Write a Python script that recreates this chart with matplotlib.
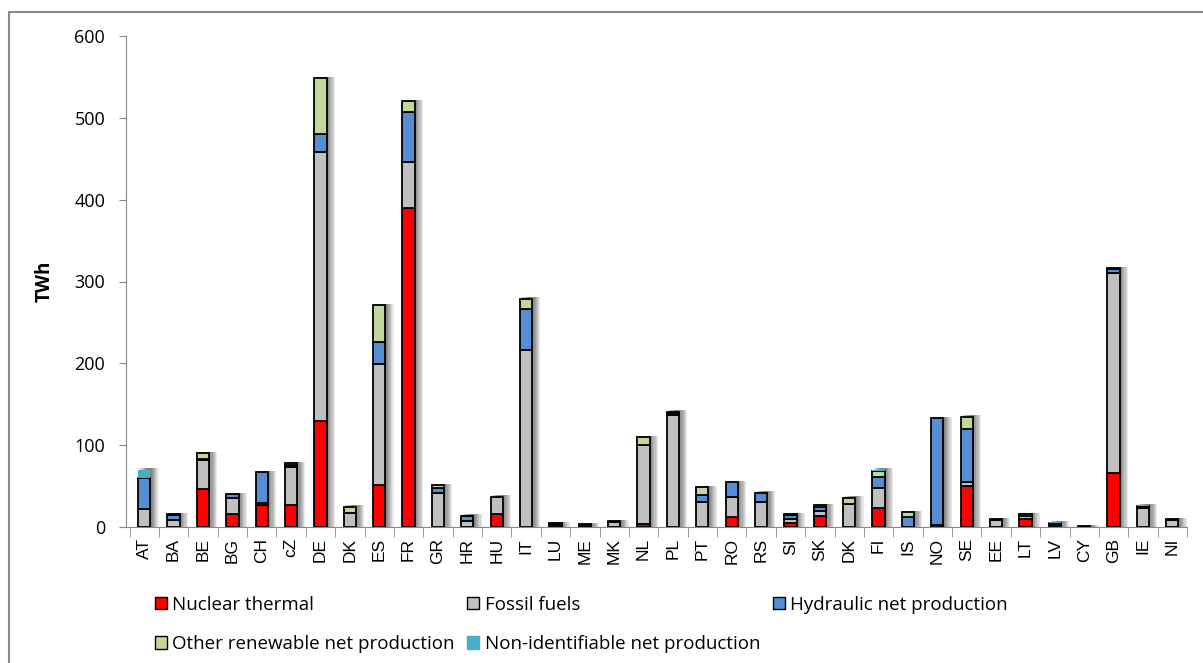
import matplotlib
matplotlib.use("Agg")
import matplotlib.pyplot as plt
from matplotlib.patches import Rectangle
import numpy as np

plt.rcParams['font.family'] = ['Open Sans', 'DejaVu Sans']

countries = ['AT', 'BA', 'BE', 'BG', 'CH', 'cZ', 'DE', 'DK', 'ES', 'FR', 'GR', 'HR',
             'HU', 'IT', 'LU', 'ME', 'MK', 'NL', 'PL', 'PT', 'RO', 'RS', 'SI', 'SK',
             'DK', 'FI', 'IS', 'NO', 'SE', 'EE', 'LT', 'LV', 'CY', 'GB', 'IE', 'NI']

nuclear = [0, 0, 46, 16, 27, 27, 130, 0, 51, 390, 0, 0, 16, 0, 0, 0, 0, 4, 0, 0, 12, 0,
           5, 14, 0, 23, 0, 0, 50, 0, 10, 0, 0, 66, 0, 0]
fossil = [22, 9, 36, 20, 2, 46, 328, 17, 148, 56, 42, 7, 21, 216, 3, 1, 6, 96, 137, 31,
          25, 30, 5, 5, 28, 25, 0, 3, 5, 9, 3, 2, 1, 244, 23, 9]
hydro = [38, 6, 1, 4, 38, 3, 22, 0, 27, 61, 6, 6, 0, 50, 1, 2.5, 1, 0, 2, 8, 18, 12,
         5, 5, 0, 13, 12, 130, 65, 0, 1, 3, 0, 5, 1, 0]
other = [0, 1, 7, 0, 0, 2, 69, 8, 45, 13, 3, 1, 0, 13, 1, 0, 0, 10, 2, 10, 0, 0,
         1, 3, 8, 8, 6, 0, 15, 1, 2, 0, 0, 1, 2, 1]
nonident = [10, 0, 0, 0, 0, 0, 0, 0, 0, 0, 0, 0, 0, 0, 0, 0, 0, 0, 0, 0, 0, 0,
            0, 0, 0, 1, 0, 0, 0, 0, 0, 1, 0, 0, 1, 0]

series = [
    ('Nuclear thermal', nuclear, '#ff0000'),
    ('Fossil fuels', fossil, '#c0c0c0'),
    ('Hydraulic net production', hydro, '#558ed5'),
    ('Other renewable net production', other, '#c3d69b'),
    ('Non-identifiable net production', nonident, '#4bacc6'),
]

fig = plt.figure(figsize=(12.03, 6.63), dpi=100)
ax = fig.add_axes([126/1203, 1 - 527/663, (1187 - 126)/1203, (527 - 36)/663])

x = np.arange(len(countries))
w = 0.42
totals = np.sum([np.array(s[1], float) for s in series], axis=0)

# soft shadow to the right of each bar
for dx in [0.04, 0.08, 0.12, 0.16, 0.20, 0.24, 0.28]:
    ax.bar(x + dx, totals + 1.5, w, color='black', alpha=0.085, linewidth=0, zorder=1)

bottom = np.zeros(len(countries))
handles = {}
for name, vals, col in series:
    vals = np.array(vals, float)
    lw = np.where(vals > 0, 1.3, 0)
    if name == 'Non-identifiable net production':
        lw = np.zeros(len(vals))
    ax.bar(x, vals, w, bottom=bottom, color=col, edgecolor='black',
           linewidth=lw, zorder=3)
    ec = col if name == 'Non-identifiable net production' else 'black'
    handles[name] = Rectangle((0, 0), 1, 1, facecolor=col, edgecolor=ec, linewidth=1.0)
    bottom += vals

ax.set_ylim(0, 600)
ax.set_xlim(-0.62, len(countries) - 0.5)
ax.set_yticks(range(0, 601, 100))
ax.tick_params(axis='y', length=5, color='#888888', labelsize=13, pad=10)
ax.set_xticks(x)
ax.set_xticklabels(countries, rotation=90, fontsize=12.5, family='Liberation Sans')
ax.tick_params(axis='x', length=0, pad=8)
ax.set_xticks(np.arange(-0.5, len(countries), 1), minor=True)
ax.tick_params(axis='x', which='minor', length=7, color='#888888', direction='out')
for s in ['top', 'right']:
    ax.spines[s].set_visible(False)
ax.spines['left'].set_color('#888888')
ax.spines['bottom'].set_color('#888888')
ax.set_ylabel('TWh', fontsize=13.5, fontweight='bold', labelpad=14)

order = ['Nuclear thermal', 'Other renewable net production', 'Fossil fuels',
         'Non-identifiable net production', 'Hydraulic net production']
fig.legend([handles[n] for n in order], order, ncol=3, frameon=False,
           loc='upper left', bbox_to_anchor=(147/1203, 1 - 588/663),
           fontsize=13.5, handlelength=0.65, handleheight=0.65, handletextpad=0.3,
           columnspacing=0.65, labelspacing=1.15, borderaxespad=0)

fig.patches.append(Rectangle((9/1203, -0.1), 1.2, 1 - 12/663 + 0.1,
                             transform=fig.transFigure, fill=False,
                             edgecolor='#888888', linewidth=1.5))

fig.savefig('out.png', dpi=100)
